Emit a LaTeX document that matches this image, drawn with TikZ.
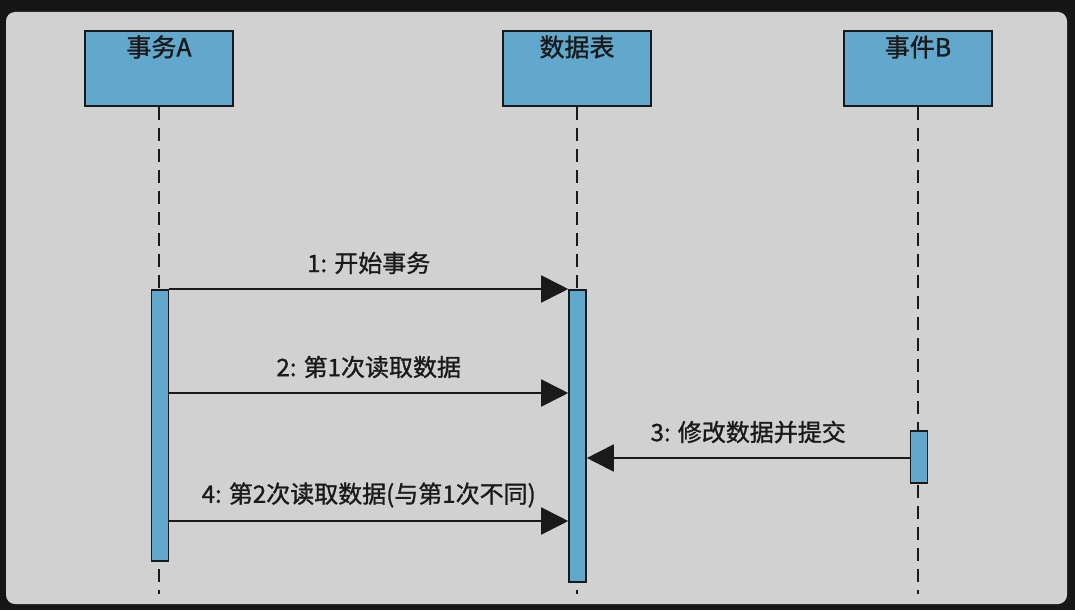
\documentclass[tikz,border=0pt]{standalone}
\usepackage{fontspec}
\setmainfont{Noto Sans CJK SC}[FakeBold=1.2]
\usetikzlibrary{arrows.meta}
\definecolor{outerbg}{HTML}{161616}
\definecolor{panelbg}{HTML}{D1D1D1}
\definecolor{boxblue}{HTML}{62A8CC}
\definecolor{ink}{HTML}{1A1A1A}
\begin{document}
\begin{tikzpicture}[x=1pt,y=-1pt,
  headbox/.style={draw=ink, line width=1.8pt, fill=boxblue, minimum width=148pt, minimum height=75pt, inner sep=0pt, anchor=north},
  headtext/.style={text=ink, font=\fontsize{25}{28}\selectfont, inner sep=0pt},
  lifeline/.style={draw=ink, line width=1.6pt, dash pattern=on 13pt off 8pt},
  actbox/.style={draw=ink, line width=1.6pt, fill=boxblue, minimum width=17pt, inner sep=0pt, anchor=north},
  msg/.style={draw=ink, line width=1.8pt, -{Triangle[length=27pt,width=27pt]}},
  msglabel/.style={text=ink, font=\fontsize{24}{27}\selectfont, inner sep=0pt, yshift=26pt}
]
\useasboundingbox (0,0) rectangle (1075,610);
\fill[outerbg] (0,0) rectangle (1075,610);
\fill[panelbg, rounded corners=9pt] (6,12) rectangle (1067,604);

% heads
\node[headbox] (A) at (159,30) {};
\node[headbox] (T) at (577,30) {};
\node[headbox] (B) at (918,30) {};
\node[headtext] (At) at (159,47) {事务A};
\node[headtext] (Tt) at (577,47) {数据表};
\node[headtext] (Bt) at (918,47) {事件B};

% lifeline ends
\coordinate (Aend) at (159,594);
\coordinate (Tend) at (577,594);
\coordinate (Bend) at (918,594);
\draw[lifeline] (A.south) -- (Aend);
\draw[lifeline] (T.south) -- (Tend);
\draw[lifeline] (B.south) -- (Bend);

% activations
\node[actbox, minimum height=271pt] (actA) at (160,289) {};
\node[actbox, minimum height=292pt] (actT) at (577.5,289) {};
\node[actbox, minimum height=52pt] (actB) at (919,430) {};

% message levels
\coordinate (m1) at (0,289);
\coordinate (m2) at (0,393);
\coordinate (m3) at (0,458);
\coordinate (m4) at (0,521);

\draw[msg] (actA.east |- m1) -- (actT.west |- m1) node[midway, msglabel] {1: 开始事务};
\draw[msg] (actA.east |- m2) -- (actT.west |- m2) node[midway, msglabel] {2: 第1次读取数据};
\draw[msg] (actB.west |- m3) -- (actT.east |- m3) node[midway, msglabel] {3: 修改数据并提交};
\draw[msg] (actA.east |- m4) -- (actT.west |- m4) node[midway, msglabel] {4: 第2次读取数据(与第1次不同)};
\end{tikzpicture}
\end{document}
